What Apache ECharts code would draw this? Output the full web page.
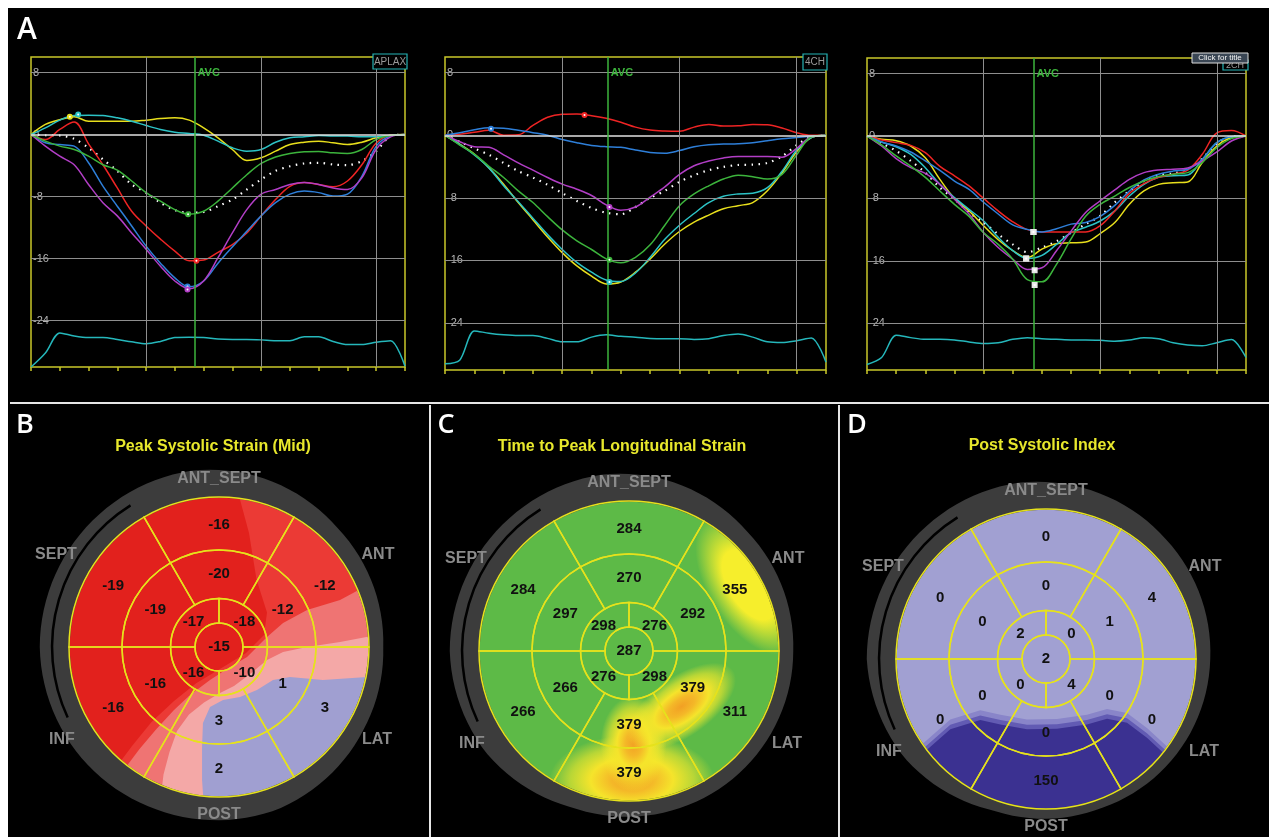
<!DOCTYPE html>
<html>
<head>
	<meta charset="utf-8">
	<title>strain</title>
	<style>html,body{margin:0;padding:0;background:#fff;}#graph{width:1269px;height:837px;}</style>
</head>
<body>
<div id="graph"></div>
<script type="text/javascript" src="https://cdn.jsdelivr.net/npm/echarts@6/dist/echarts.min.js"></script>
<script type="text/javascript">
// frame index (x) shared by every trace
const frames = [0,0.5,1,1.5,2,2.5,3,3.5,4,4.5,5,5.5,6,6.5,7,7.5,8,8.5,9,9.5,10,10.5,11,11.5,12,12.5,13];
const strainTicks = [8, 0, -8, -16, -24];
const gridFrames = [4, 8, 12];
const avcFrames = [5.7, 5.57, 5.73];
const viewNames = ['APLAX', '4CH', '2CH'];

// APLAX
const aplaxYellow = [0,1.3,1.9,2.3,1.7,1.7,1.7,1.7,1.85,2.05,2.15,1.85,0.86,-0.43,-1.94,-3.35,-3.0,-2.15,-1.3,-1.0,-0.86,-1.07,-1.3,-1.0,-0.43,-0.1,0];
const aplaxCyan = [0,0.86,1.85,2.45,2.5,2.45,2.15,1.72,1.16,0.65,0.3,0.13,-0.1,-0.86,-1.72,-2.15,-1.94,-1.0,-0.43,-0.3,-0.13,-0.2,-0.2,-0.3,-0.3,-0.13,0];
const aplaxRed = [0,-0.65,0.65,1.6,-1.2,-3.9,-6.9,-9.9,-11.8,-13.5,-15.05,-16.3,-16.2,-15.2,-14.2,-12.7,-10.5,-8.4,-6.7,-6.2,-6.45,-6.75,-6.0,-3.9,-1.1,-0.1,0];
const aplaxBlue = [0,-1.07,-1.3,-1.5,-3.65,-6.67,-9.25,-11.8,-14.4,-16.6,-18.5,-19.65,-18.9,-16.6,-14.5,-12.5,-10.5,-8.8,-7.7,-7.3,-7.5,-7.95,-7.7,-5.4,-1.5,-0.2,0];
const aplaxMagenta = [0,-1.5,-2.8,-3.9,-6.45,-8.8,-10.5,-12.7,-14.8,-17.0,-18.9,-19.9,-18.9,-15.9,-12.7,-9.7,-7.7,-7.1,-6.45,-6.2,-6.45,-6.9,-7.1,-5.6,-1.9,-0.3,0];
const aplaxGreen = [0,-0.86,-1.5,-1.94,-2.8,-3.9,-4.6,-6.0,-7.5,-8.6,-9.7,-10.3,-9.9,-8.6,-6.9,-5.2,-3.74,-2.9,-2.45,-2.24,-2.2,-2.37,-2.45,-1.94,-0.65,-0.13,0];
const aplaxAverage = [0,-0.1,-0.13,-0.56,-1.72,-3.2,-4.7,-6.45,-7.5,-8.8,-9.75,-10.1,-10.0,-9.25,-8.4,-7.1,-5.8,-4.7,-4.1,-3.74,-3.65,-3.87,-3.95,-3.44,-2.15,-0.2,0];
const aplaxEcg = [-30,-28.2,-25.6,-26.0,-26.2,-26.2,-26.45,-26.75,-27.0,-26.7,-26.2,-26.15,-26.2,-26.4,-26.45,-26.45,-26.5,-26.6,-26.6,-26.1,-26.1,-26.7,-27.1,-27.1,-26.8,-26.6,-29.9];
const aplaxPeaks = [[1.35,2.3],[1.64,2.58],[5.75,-16.3],[5.44,-19.6],[5.44,-20.0],[5.46,-10.3]];

// 4CH
const fourYellow = [0,-1.13,-2.4,-4.17,-6.25,-8.6,-10.8,-13.0,-15.0,-16.7,-18.0,-19.0,-18.75,-17.5,-15.8,-13.9,-12.3,-11.1,-10.2,-9.4,-9.0,-8.6,-7.1,-4.8,-2.1,-0.3,0];
const fourCyan = [0,-1.17,-2.5,-4.17,-6.46,-8.5,-10.6,-12.7,-14.6,-16.25,-17.5,-18.5,-18.7,-17.6,-15.6,-13.3,-11.5,-10.0,-8.6,-7.8,-7.5,-7.4,-6.7,-4.6,-1.9,-0.3,0];
const fourRed = [0,0.13,0.38,0.63,0,0.05,1.25,2.3,2.67,2.7,2.5,2.17,1.67,1.04,0.67,0.54,0.5,1.04,1.38,1.17,1.2,1.38,1.33,0.92,0.33,0,0];
const fourBlue = [0,0.33,0.7,0.96,0.88,0.63,0.33,0,-0.54,-0.96,-1.3,-1.46,-1.54,-1.88,-2.2,-2.3,-1.96,-1.46,-1.2,-1.13,-1.08,-0.96,-0.7,-0.46,-0.3,-0.13,0];
const fourMagenta = [0,-0.83,-1.46,-1.54,-2.5,-3.54,-4.46,-5.4,-6.25,-6.9,-7.7,-8.9,-9.6,-9.17,-7.9,-6.6,-5.0,-3.9,-3.3,-2.9,-2.7,-2.7,-2.7,-2.8,-1.67,-0.2,0];
const fourGreen = [0,-1.25,-2.4,-3.96,-5.4,-7.1,-8.6,-10.4,-12.1,-13.5,-14.6,-15.8,-16.3,-15.6,-14.0,-11.5,-9.0,-7.5,-6.46,-5.6,-5.1,-5.3,-5.6,-5.0,-2.5,-0.2,0];
const fourAverage = [0,-0.83,-1.67,-2.5,-3.54,-4.58,-5.4,-6.33,-7.4,-8.4,-9.3,-9.9,-10.1,-9.17,-8.0,-7.1,-5.96,-5.1,-4.46,-4.04,-3.8,-3.75,-3.54,-2.7,-1.25,-0.2,0];
const fourEcg = [-29.2,-28.75,-25.0,-25.3,-25.5,-25.6,-25.6,-25.96,-26.4,-26.4,-25.8,-25.5,-25.7,-25.8,-25.96,-26.0,-26.0,-26.1,-26.0,-25.6,-25.4,-25.8,-26.4,-26.5,-26.25,-25.9,-29.0];
const fourPeaks = [null,[5.61,-18.75],[4.76,2.58],[1.57,0.83],[5.61,-9.17],[5.61,-15.9]];

// 2CH
const twoYellow = [0,-0.43,-0.6,-1.28,-2.8,-5.56,-8.0,-9.6,-11.5,-13.3,-14.7,-15.6,-14.5,-13.8,-13.7,-13.6,-12.5,-11.1,-8.76,-7.05,-6.2,-6.0,-5.9,-3.4,-1.28,-0.2,0];
const twoCyan = [0,-0.77,-1.37,-2.35,-4.06,-6.2,-7.9,-9.4,-10.9,-13.0,-14.7,-15.7,-15.3,-13.9,-12.4,-11.7,-10.9,-9.6,-7.7,-6.2,-5.3,-5.1,-5.0,-3.0,-0.85,-0.1,0];
const twoRed = [0,-0.5,-0.85,-1.2,-2.14,-3.9,-5.1,-6.4,-8.0,-9.6,-11.0,-12.0,-12.3,-12.3,-12.3,-12.3,-11.5,-9.6,-7.35,-6.1,-5.3,-4.9,-4.36,-2.35,0.4,0.7,0];
const twoBlue = [0,-0.77,-1.28,-2.05,-3.2,-4.4,-5.77,-6.84,-8.5,-10.0,-11.4,-11.97,-12.3,-11.9,-11.3,-11.1,-10.3,-8.9,-7.05,-5.64,-4.9,-4.5,-4.27,-3.0,-0.85,-0.1,0];
const twoMagenta = [0,-1.28,-2.9,-4.06,-4.8,-6.2,-8.1,-10.0,-12.4,-14.3,-15.8,-17.1,-16.9,-14.7,-12.2,-9.8,-8.3,-6.9,-5.56,-4.7,-4.36,-4.27,-4.1,-3.2,-2.05,-0.64,0];
const twoGreen = [0,-1.15,-2.56,-3.85,-5.3,-7.05,-8.76,-10.3,-12.4,-13.9,-15.8,-18.4,-18.7,-16.45,-13.2,-10.3,-8.76,-7.7,-6.6,-5.77,-5.2,-4.9,-4.7,-3.4,-1.5,-0.34,0];
const twoAverage = [0,-0.94,-1.9,-3.2,-4.7,-6.6,-8.1,-9.8,-11.1,-12.6,-13.9,-14.9,-14.3,-13.5,-12.4,-11.3,-10.25,-8.5,-7.05,-5.77,-5.0,-4.8,-4.27,-2.9,-0.94,-0.1,0];
const twoEcg = [-29.3,-28.4,-25.55,-25.85,-26.07,-26.07,-26.15,-26.4,-26.6,-26.5,-26.07,-25.85,-26.0,-26.07,-26.15,-26.15,-26.2,-26.3,-26.15,-25.85,-26.0,-26.5,-26.8,-26.9,-26.5,-26.1,-28.4];
const twoPeaks = [[5.46,-15.7],[5.46,-15.7],[5.71,-12.3],[5.71,-12.3],[5.75,-17.2],[5.75,-19.1]];

// bull's-eye maps, walls in order ANT_SEPT, ANT, LAT, POST, INF, SEPT
const walls = ['ANT_SEPT', 'ANT', 'LAT', 'POST', 'INF', 'SEPT'];
const strainBasal = [-16, -12, 3, 2, -16, -19];
const strainMid = [-20, -12, 1, 3, -16, -19];
const strainApical = [-18, -10, -16, -17];
const strainApex = -15;
const ttpBasal = [284, 355, 311, 379, 266, 284];
const ttpMid = [270, 292, 379, 379, 266, 297];
const ttpApical = [276, 298, 276, 298];
const ttpApex = 287;
const psiBasal = [0, 4, 0, 150, 0, 0];
const psiMid = [0, 1, 0, 0, 0, 0];
const psiApical = [0, 4, 0, 2];
const psiApex = 2;

(function(){
	let chart = echarts.init(document.getElementById('graph'));
	const FONT = '"Liberation Sans", Arial, sans-serif';
	const YEL = '#c9c72a';
	const D = Math.PI / 180;
	const R = 150;
	const curveColors = ['#e8df1c', '#2cc3c6', '#ee2424', '#2e7fd9', '#b23ec6', '#3cb43c'];

	const grids = [
		{left: 31, top: 57, width: 374, height: 310},
		{left: 445, top: 57, width: 381, height: 313},
		{left: 867, top: 58, width: 379, height: 312}
	];

	const pair = arr => frames.map((x, k) => [x, arr[k]]);

	function stripSeries(i, curves, average, ecg, peaks) {
		let lines = strainTicks.map(v => ({
			yAxis: v,
			lineStyle: v === 0 ? {color: '#e2e2e2', width: 1.5, type: 'solid'} : {color: '#8e8e8e', width: 1, type: 'solid'}
		}));
		gridFrames.forEach(f => lines.push({xAxis: f, lineStyle: {color: '#8e8e8e', width: 1, type: 'solid'}}));
		lines.push({xAxis: avcFrames[i], lineStyle: {color: '#3cb43c', width: 1.5, type: 'solid'}});

		let out = [{
			type: 'line', name: 'ECG', xAxisIndex: i, yAxisIndex: i,
			data: pair(ecg), symbol: 'none', smooth: 0.3,
			lineStyle: {color: '#25b7bb', width: 1.5},
			markLine: {silent: true, symbol: ['none', 'none'], label: {show: false}, data: lines},
			markPoint: {
				silent: true, symbol: 'circle', symbolSize: 1,
				itemStyle: {color: 'rgba(0,0,0,0)'},
				label: {show: true, formatter: 'AVC', position: 'right', distance: 2, color: '#3cb43c', fontSize: 11, fontWeight: 'bold', fontFamily: FONT},
				data: [{coord: [avcFrames[i], 8]}]
			}
		}];
		out.push({
			type: 'line', name: 'average', xAxisIndex: i, yAxisIndex: i,
			data: pair(average), symbol: 'none', smooth: 0.3,
			lineStyle: {color: '#ffffff', width: 2.2, type: [1.5, 5.5]}
		});
		curves.forEach((arr, k) => {
			let s = {
				type: 'line', xAxisIndex: i, yAxisIndex: i,
				data: pair(arr), symbol: 'none', smooth: 0.35,
				lineStyle: {color: curveColors[k], width: 1.5}
			};
			if (peaks[k]) {
				s.markPoint = {
					silent: true, symbol: i === 2 ? 'emptyRect' : 'emptyCircle', symbolSize: 4,
					itemStyle: {color: i === 2 ? '#e8e8e8' : curveColors[k], borderWidth: 1},
					label: {show: false},
					data: [{coord: peaks[k]}]
				};
			}
			out.push(s);
		});
		return out;
	}

	// bull's-eye geometry (radii as fraction of outer radius)
	const ringGeom = [
		{r0: 0.647, r: 1, half: 30, centers: [90, 30, -30, -90, -150, 150], lr: 0.815},
		{r0: 0.323, r: 0.647, half: 30, centers: [90, 30, -30, -90, -150, 150], lr: 0.49},
		{r0: 0.16, r: 0.323, half: 45, centers: [45, -45, -135, 135], lr: 0.24},
		{r0: 0, r: 0.16, half: 180, centers: [0], lr: 0}
	];

	function bullseye(c, basal, mid, apical, apex) {
		let data = [];
		basal.forEach((v, k) => data.push([0, k, v]));
		mid.forEach((v, k) => data.push([1, k, v]));
		apical.forEach((v, k) => data.push([2, k, v]));
		data.push([3, 0, apex]);
		return {
			type: 'custom', coordinateSystem: 'none', silent: true, z: 5, data,
			renderItem(params, api) {
				const g = ringGeom[api.value(0)], a = g.centers[api.value(1)], val = api.value(2);
				const shape = api.value(0) === 3
					? {type: 'circle', shape: {cx: c[0], cy: c[1], r: R * g.r}, style: {fill: 'none', stroke: '#e6e21c', lineWidth: 1.5}}
					: {type: 'sector', shape: {cx: c[0], cy: c[1], r0: R * g.r0, r: R * g.r, startAngle: -(a + g.half) * D, endAngle: -(a - g.half) * D, clockwise: true},
						style: {fill: 'none', stroke: '#e6e21c', lineWidth: 1.5}};
				return {type: 'group', children: [shape, {
					type: 'text', x: c[0] + Math.cos(a * D) * R * g.lr, y: c[1] - Math.sin(a * D) * R * g.lr,
					style: {text: String(val), fill: '#111', font: 'bold 15px ' + FONT, textAlign: 'center', textVerticalAlign: 'middle'}
				}]};
			}
		};
	}

	// ---- colour-field decoration (inside the disc) ----
	const toXY = (c, p) => [c[0] + p[0] * R, c[1] - p[1] * R];
	const ang = p => Math.atan2(p[1], p[0]) / D;
	function zone(edge, ccw) {
		let pts = edge.map(p => {
			const r = Math.hypot(p[0], p[1]);
			return r > 1.03 ? [p[0] * 1.03 / r, p[1] * 1.03 / r] : p;
		});
		let a1 = ang(edge[edge.length - 1]), a2 = ang(edge[0]);
		if (ccw && a2 < a1) a2 += 360;
		if (!ccw && a2 > a1) a2 -= 360;
		const n = Math.ceil(Math.abs(a2 - a1) / 4);
		for (let k = 1; k < n; k++) {
			const a = (a1 + (a2 - a1) * k / n) * D;
			pts.push([Math.cos(a) * 1.03, Math.sin(a) * 1.03]);
		}
		return pts;
	}
	const polyEl = (c, pts, fill) => ({type: 'polygon', shape: {points: pts.map(p => toXY(c, p))}, style: {fill}});
	function blobEl(c, b, stops) {
		return {
			type: 'circle', x: c[0] + b[0] * R, y: c[1] - b[1] * R,
			scaleX: b[2] * R / 50, scaleY: b[3] * R / 50, rotation: b[4] * D,
			shape: {cx: 0, cy: 0, r: 50},
			style: {fill: {type: 'radial', x: 0.5, y: 0.5, r: 0.5, colorStops: stops}}
		};
	}
	function fieldSeries(c, children) {
		return {
			type: 'custom', coordinateSystem: 'none', silent: true, z: 1, data: [[0]],
			renderItem: () => ({
				type: 'group',
				clipPath: {type: 'circle', shape: {cx: c[0], cy: c[1], r: R}},
				children
			})
		};
	}

	const cB = [219, 647], cC = [629, 651], cD = [1046, 659];

	const bLight = [[0.13,1.1],[0.138,0.99],[0.2,0.76],[0.25,0.45],[0.32,0.23],[0.3,0.08],[0.18,-0.04],[0.05,-0.12],[-0.15,-0.24],[-0.3,-0.36],[-0.45,-0.5],[-0.58,-0.66],[-0.72,-0.84]];
	const bSalmon = [[1.02,0.42],[0.807,0.313],[0.587,0.247],[0.427,0.16],[0.32,0.067],[0.187,-0.067],[0.073,-0.133],[-0.06,-0.22],[-0.193,-0.32],[-0.3,-0.42],[-0.42,-0.55],[-0.53,-0.68],[-0.62,-0.8],[-0.68,-0.88]];
	const bPink = [[1.08,0.08],[0.807,0.033],[0.587,0.0],[0.427,-0.033],[0.32,-0.087],[0.207,-0.18],[0.1,-0.26],[0.0,-0.31],[-0.1,-0.37],[-0.2,-0.45],[-0.28,-0.56],[-0.33,-0.7],[-0.37,-0.85],[-0.4,-1.0],[-0.42,-1.08]];
	const bLav = [[-0.11,-1.09],[-0.113,-0.887],[-0.113,-0.667],[-0.107,-0.507],[-0.06,-0.4],[0.027,-0.353],[0.14,-0.333],[0.253,-0.287],[0.36,-0.22],[0.473,-0.2],[0.693,-0.22],[0.987,-0.2],[1.08,-0.2]];
	const dEdge = [[-0.9,-0.6],[-0.816,-0.56],[-0.638,-0.404],[-0.438,-0.342],[-0.304,-0.371],[-0.127,-0.404],[0.073,-0.4],[0.273,-0.371],[0.407,-0.333],[0.54,-0.36],[0.673,-0.46],[0.818,-0.593],[0.9,-0.64]];
	const shift = (list, dy) => list.map(p => [p[0], p[1] + dy]);

	const orangeStops = [
		{offset: 0, color: '#f2a024'}, {offset: 0.25, color: '#f4b828'}, {offset: 0.5, color: '#f5e42b'},
		{offset: 0.75, color: 'rgba(245,233,43,0.6)'}, {offset: 1, color: 'rgba(245,233,43,0)'}
	];
	const yellowStops = [
		{offset: 0, color: '#f6ee2c'}, {offset: 0.5, color: '#f6ee2c'}, {offset: 1, color: 'rgba(246,238,44,0)'}
	];

	const fieldB = fieldSeries(cB, [
		{type: 'circle', shape: {cx: cB[0], cy: cB[1], r: R + 2}, style: {fill: '#e2211d'}},
		polyEl(cB, zone(bLight, true), '#eb3a35'),
		polyEl(cB, zone(bSalmon, true), '#ef7473'),
		polyEl(cB, zone(bPink, true), '#f4a8a7'),
		polyEl(cB, zone(bLav, false), '#a09fd1')
	]);
	const fieldC = fieldSeries(cC, [
		{type: 'circle', shape: {cx: cC[0], cy: cC[1], r: R + 2}, style: {fill: '#5dba47'}},
		blobEl(cC, [0.8, 0.44, 0.52, 0.27, -58], yellowStops),
		blobEl(cC, [0.02, -0.86, 0.55, 0.3, 0], orangeStops),
		blobEl(cC, [0.03, -0.62, 0.22, 0.32, 0], orangeStops),
		blobEl(cC, [0.35, -0.37, 0.42, 0.2, 35], orangeStops)
	]);
	const fieldD = fieldSeries(cD, [
		{type: 'circle', shape: {cx: cD[0], cy: cD[1], r: R + 2}, style: {fill: '#a1a0d2'}},
		polyEl(cD, zone(dEdge, false), '#8985c9'),
		polyEl(cD, zone(shift(dEdge, -0.035), false), '#625bb3'),
		polyEl(cD, zone(shift(dEdge, -0.065), false), '#3b3191')
	]);

	// dark frame around each disc (outer edge profile, spiral on the septal side)
	function frame(c, profile) {
		let pts = [];
		for (let a = 0; a < 360; a += 3) {
			let k = 0;
			while (profile[k + 1][0] < a) k++;
			const [a0, r0] = profile[k], [a1, r1] = profile[k + 1];
			const r = r0 + (r1 - r0) * (a - a0) / (a1 - a0);
			pts.push([Math.cos(a * D) * r, Math.sin(a * D) * r]);
		}
		pts.push([1.095, 0]);
		for (let a = 360; a >= 0; a -= 3) pts.push([Math.cos(a * D) * 0.995, Math.sin(a * D) * 0.995]);
		return [
			{type: 'polygon', silent: true, z: 3, shape: {points: pts.map(p => toXY(c, p))}, style: {fill: '#3c3c3c'}},
			{type: 'arc', silent: true, z: 3, shape: {cx: c[0], cy: c[1], r: R * 1.113, startAngle: -205 * D, endAngle: -122 * D, clockwise: true}, style: {stroke: '#000', lineWidth: 2.5, fill: 'none'}}
		];
	}
	const profB = [[0,1.095],[45,1.12],[80,1.17],[100,1.19],[180,1.195],[215,1.18],[250,1.16],[290,1.15],[330,1.11],[360,1.095]];
	const profC = [[0,1.095],[45,1.12],[80,1.17],[100,1.19],[180,1.195],[215,1.17],[250,1.11],[290,1.1],[330,1.095],[360,1.095]];
	const profD = [[0,1.095],[45,1.13],[80,1.17],[100,1.19],[180,1.195],[215,1.15],[250,1.07],[290,1.06],[330,1.08],[360,1.095]];

	const wallOffsets = [[0, -168], [159, -92], [158, 93], [0, 168], [-157, 93], [-163, -92]];
	function wallLabels(c) {
		return walls.map((w, k) => ({
			type: 'text', silent: true, z: 6, x: c[0] + wallOffsets[k][0], y: c[1] + wallOffsets[k][1],
			style: {text: w, fill: '#8a8a8a', font: 'bold 16px ' + FONT, textAlign: 'center', textVerticalAlign: 'middle'}
		}));
	}
	const txt = (x, y, text, fill, font, z) => ({type: 'text', silent: true, z: z || 6, x, y, style: {text, fill, font, textAlign: 'center', textVerticalAlign: 'middle'}});

	let graphic = [
		{type: 'rect', silent: true, z: 8, shape: {x: 0, y: 0, width: 1269, height: 8}, style: {fill: '#fff'}},
		{type: 'rect', silent: true, z: 8, shape: {x: 0, y: 0, width: 8, height: 837}, style: {fill: '#fff'}},
		{type: 'line', silent: true, z: 6, shape: {x1: 10, y1: 403, x2: 1269, y2: 403}, style: {stroke: '#e6e6e6', lineWidth: 2}},
		{type: 'line', silent: true, z: 6, shape: {x1: 430, y1: 405, x2: 430, y2: 837}, style: {stroke: '#e6e6e6', lineWidth: 2}},
		{type: 'line', silent: true, z: 6, shape: {x1: 839, y1: 405, x2: 839, y2: 837}, style: {stroke: '#e6e6e6', lineWidth: 2}},

		...frame(cB, profB),
		...wallLabels(cB),
		txt(213, 447, 'Peak Systolic Strain (Mid)', '#e8e82c', 'bold 16px ' + FONT),
		...frame(cC, profC),
		...wallLabels(cC),
		txt(622, 447, 'Time to Peak Longitudinal Strain', '#e8e82c', 'bold 16px ' + FONT),
		...frame(cD, profD),
		...wallLabels(cD),
		txt(1042, 446, 'Post Systolic Index', '#e8e82c', 'bold 16px ' + FONT),

		// panel letters
		txt(27, 30, 'A', '#fff', '600 30px "Open Sans", sans-serif'),
		txt(25, 425, 'B', '#fff', '600 27px "Open Sans", sans-serif'),
		txt(446, 425, 'C', '#fff', '600 27px "Open Sans", sans-serif'),
		txt(857, 425, 'D', '#fff', '600 27px "Open Sans", sans-serif'),

		// view tags
		{type: 'rect', silent: true, z: 6, shape: {x: 373, y: 54, width: 34, height: 15}, style: {fill: '#000', stroke: '#25b3b5', lineWidth: 1.2}},
		txt(390, 62, viewNames[0], '#9a9a9a', '10px ' + FONT, 7),
		{type: 'rect', silent: true, z: 6, shape: {x: 803, y: 54, width: 24, height: 16}, style: {fill: '#000', stroke: '#25b3b5', lineWidth: 1.2}},
		txt(815, 62, viewNames[1], '#9a9a9a', '10px ' + FONT, 7),
		{type: 'rect', silent: true, z: 6, shape: {x: 1223, y: 60, width: 25, height: 10}, style: {fill: '#000', stroke: '#25b3b5', lineWidth: 1.2}},
		txt(1235, 66, viewNames[2], '#9a9a9a', '9px ' + FONT, 7),
		{type: 'rect', silent: true, z: 7, shape: {x: 1192, y: 53, width: 56, height: 10}, style: {fill: '#3a4654', stroke: '#dddddd', lineWidth: 1}},
		txt(1220, 58, 'Click for title', '#f4f4f4', '8px ' + FONT, 8)
	];

	let series = [].concat(
		stripSeries(0, [aplaxYellow, aplaxCyan, aplaxRed, aplaxBlue, aplaxMagenta, aplaxGreen], aplaxAverage, aplaxEcg, aplaxPeaks),
		stripSeries(1, [fourYellow, fourCyan, fourRed, fourBlue, fourMagenta, fourGreen], fourAverage, fourEcg, fourPeaks),
		stripSeries(2, [twoYellow, twoCyan, twoRed, twoBlue, twoMagenta, twoGreen], twoAverage, twoEcg, twoPeaks),
		[fieldB, fieldC, fieldD,
		 bullseye(cB, strainBasal, strainMid, strainApical, strainApex),
		 bullseye(cC, ttpBasal, ttpMid, ttpApical, ttpApex),
		 bullseye(cD, psiBasal, psiMid, psiApical, psiApex)]
	);

	chart.setOption({
		backgroundColor: '#000',
		animation: false,
		grid: grids.map(g => Object.assign({show: true, borderColor: YEL, borderWidth: 1.5, backgroundColor: 'transparent'}, g)),
		xAxis: grids.map((g, i) => ({
			gridIndex: i, type: 'value', min: 0, max: 13, interval: 1,
			axisLine: {show: false, onZero: false},
			axisTick: {show: true, length: 4, lineStyle: {color: YEL, width: 1.5}},
			axisLabel: {show: false},
			splitLine: {show: false}
		})),
		yAxis: grids.map((g, i) => ({
			gridIndex: i, type: 'value', min: -30, max: 10,
			axisLine: {show: false},
			axisTick: {show: false},
			splitLine: {show: false},
			axisLabel: {inside: true, customValues: strainTicks, color: '#b4b4b4', fontSize: 11, margin: 2, fontFamily: FONT}
		})),
		graphic,
		series
	});
})();
</script>
</body>
</html>
